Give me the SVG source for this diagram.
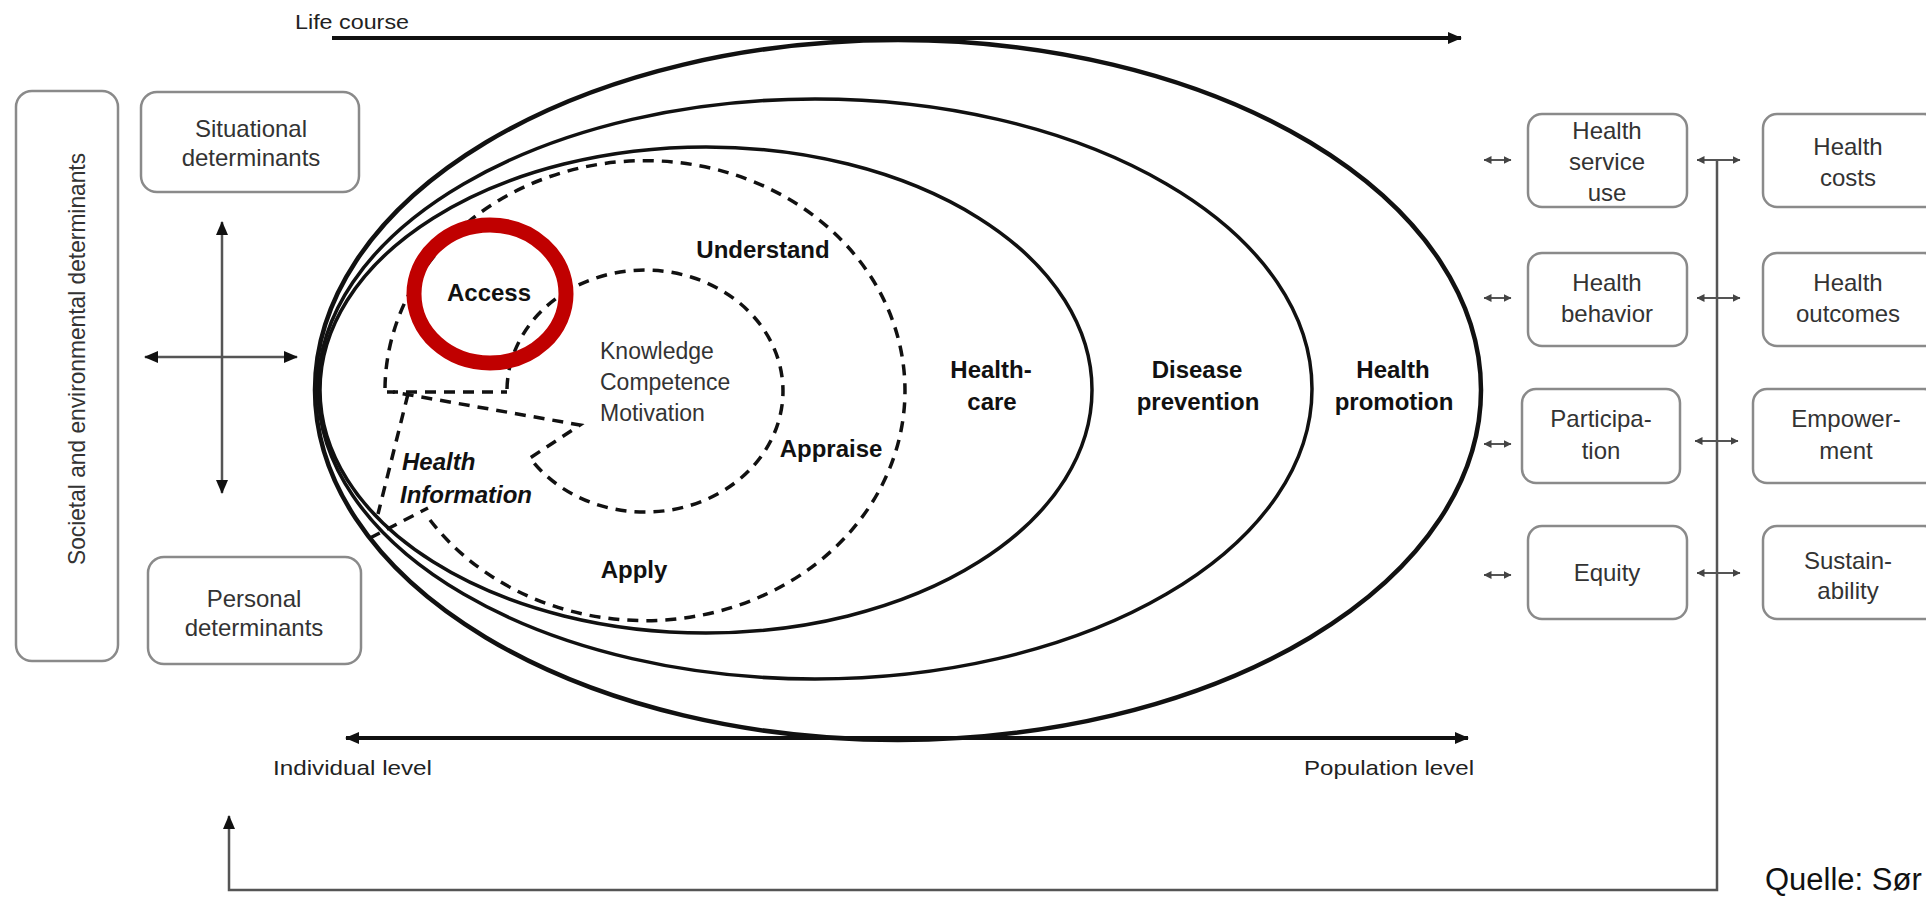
<svg xmlns="http://www.w3.org/2000/svg" width="1926" height="897" viewBox="0 0 1926 897">
  <defs>
    <marker id="head" viewBox="0 0 14 12" refX="13" refY="6" markerWidth="14" markerHeight="12" markerUnits="userSpaceOnUse" orient="auto-start-reverse">
      <path d="M0,0 L14,6 L0,12 z" fill="#111"/>
    </marker>
    <marker id="headSmall" viewBox="0 0 8 8" refX="7.5" refY="4" markerWidth="8" markerHeight="8" markerUnits="userSpaceOnUse" orient="auto-start-reverse">
      <path d="M0,0 L8,4 L0,8 z" fill="#444"/>
    </marker>
  </defs>
  <style>
    .box { fill: #fff; stroke: #8a8a8a; stroke-width: 2.5; }
    .btxt { font-family: "Liberation Sans", Arial, sans-serif; font-size: 24px; fill: #333; text-anchor: middle; }
    .zone { fill: none; stroke: #111; }
    .dash { fill: none; stroke: #111; stroke-width: 3.5; stroke-dasharray: 11 8; }
    .lbl { font-family: "Liberation Sans", Arial, sans-serif; font-weight: bold; font-size: 24px; fill: #111; text-anchor: middle; }
    .info { font-family: "Liberation Sans", Arial, sans-serif; font-weight: bold; font-style: italic; font-size: 24px; fill: #111; text-anchor: start; }
    .core { font-family: "Liberation Sans", Arial, sans-serif; font-size: 23px; fill: #333; }
    .axis { fill: none; stroke: #111; stroke-width: 4; }
    .axtxt { font-family: "Liberation Sans", Arial, sans-serif; font-size: 21px; fill: #222; }
    .thin { fill: none; stroke: #555; stroke-width: 2.5; }
    .link { fill: none; stroke: #555; stroke-width: 2; }
  </style>

  <rect width="1926" height="897" fill="#fff"/>

  <!-- nested fields of action -->
  <g id="health-promotion">
    <ellipse class="zone" cx="898" cy="390" rx="583" ry="350" stroke-width="4.5"/>
    <text class="lbl" x="1393" y="378">Health</text>
    <text class="lbl" x="1394" y="410">promotion</text>
  </g>
  <g id="disease-prevention">
    <ellipse class="zone" cx="815" cy="389" rx="497" ry="290" stroke-width="3.5"/>
    <text class="lbl" x="1197" y="378">Disease</text>
    <text class="lbl" x="1198" y="410">prevention</text>
  </g>
  <g id="healthcare">
    <ellipse class="zone" cx="706" cy="390" rx="386" ry="243" stroke-width="3.5"/>
    <text class="lbl" x="991" y="378">Health-</text>
    <text class="lbl" x="992" y="410">care</text>
  </g>

  <!-- health literacy process -->
  <g id="process">
    <path class="dash" d="M385,388 A260,230 0 1 1 430,520"/>
    <path class="dash" d="M408,394 L378,514"/>
    <path class="dash" d="M370,538 L428,508"/>
    <path class="dash" d="M387,392 L507,392"/>
    <text class="lbl" x="763" y="258">Understand</text>
    <text class="lbl" x="831" y="457">Appraise</text>
    <text class="lbl" x="634" y="578">Apply</text>
  </g>
  <g id="core">
    <path class="dash" d="M507,389 A138,121 0 1 1 530,458 L580,425 L393,392"/>
    <text class="core" x="600" y="359">Knowledge</text>
    <text class="core" x="600" y="390">Competence</text>
    <text class="core" x="600" y="421">Motivation</text>
  </g>
  <g id="health-information">
    <text class="info" x="402" y="470">Health</text>
    <text class="info" x="400" y="503">Information</text>
  </g>
  <g id="access">
    <text class="lbl" x="489" y="301" font-size="22">Access</text>
    <ellipse cx="490" cy="294" rx="76" ry="69" fill="none" stroke="#c00000" stroke-width="15"/>
  </g>

  <!-- determinants -->
  <g id="societal-determinants">
    <rect class="box" x="16" y="91" width="102" height="570" rx="16"/>
    <text class="btxt" transform="translate(85,359) rotate(-90)" x="0" y="0" textLength="412" lengthAdjust="spacingAndGlyphs">Societal and environmental determinants</text>
  </g>
  <g id="situational-determinants">
    <rect class="box" x="141" y="92" width="218" height="100" rx="16"/>
    <text class="btxt" x="251" y="137">Situational</text>
    <text class="btxt" x="251" y="166">determinants</text>
  </g>
  <g id="personal-determinants">
    <rect class="box" x="148" y="557" width="213" height="107" rx="16"/>
    <text class="btxt" x="254" y="607">Personal</text>
    <text class="btxt" x="254" y="636">determinants</text>
  </g>

  <!-- health outcomes, first column -->
  <g id="health-service-use">
    <rect class="box" x="1528" y="114" width="159" height="93" rx="14"/>
    <text class="btxt" x="1607" y="139">Health</text>
    <text class="btxt" x="1607" y="170">service</text>
    <text class="btxt" x="1607" y="201">use</text>
  </g>
  <g id="health-behavior">
    <rect class="box" x="1528" y="253" width="159" height="93" rx="14"/>
    <text class="btxt" x="1607" y="291">Health</text>
    <text class="btxt" x="1607" y="322">behavior</text>
  </g>
  <g id="participation">
    <rect class="box" x="1522" y="389" width="158" height="94" rx="14"/>
    <text class="btxt" x="1601" y="427">Participa-</text>
    <text class="btxt" x="1601" y="459">tion</text>
  </g>
  <g id="equity">
    <rect class="box" x="1528" y="526" width="159" height="93" rx="14"/>
    <text class="btxt" x="1607" y="581">Equity</text>
  </g>

  <!-- health outcomes, second column -->
  <g id="health-costs">
    <rect class="box" x="1763" y="114" width="175" height="93" rx="14"/>
    <text class="btxt" x="1848" y="155">Health</text>
    <text class="btxt" x="1848" y="186">costs</text>
  </g>
  <g id="health-outcomes">
    <rect class="box" x="1763" y="253" width="175" height="93" rx="14"/>
    <text class="btxt" x="1848" y="291">Health</text>
    <text class="btxt" x="1848" y="322">outcomes</text>
  </g>
  <g id="empowerment">
    <rect class="box" x="1753" y="389" width="185" height="94" rx="14"/>
    <text class="btxt" x="1846" y="427">Empower-</text>
    <text class="btxt" x="1846" y="459">ment</text>
  </g>
  <g id="sustainability">
    <rect class="box" x="1763" y="526" width="175" height="93" rx="14"/>
    <text class="btxt" x="1848" y="569">Sustain-</text>
    <text class="btxt" x="1848" y="599">ability</text>
  </g>

  <!-- connectors -->
  <g id="connectors">
    <path class="axis" d="M332,38 L1461,38" marker-end="url(#head)"/>
    <path class="axis" d="M346,738 L1468,738" marker-start="url(#head)" marker-end="url(#head)"/>
    <path class="thin" d="M222,222 L222,493" marker-start="url(#head)" marker-end="url(#head)"/>
    <path class="thin" d="M145,357 L297,357" marker-start="url(#head)" marker-end="url(#head)"/>

    <path class="link" d="M1484,160 L1511,160" marker-start="url(#headSmall)" marker-end="url(#headSmall)"/>
    <path class="link" d="M1484,298 L1511,298" marker-start="url(#headSmall)" marker-end="url(#headSmall)"/>
    <path class="link" d="M1484,444 L1511,444" marker-start="url(#headSmall)" marker-end="url(#headSmall)"/>
    <path class="link" d="M1484,575 L1511,575" marker-start="url(#headSmall)" marker-end="url(#headSmall)"/>

    <path class="link" d="M1697,160 L1740,160" marker-start="url(#headSmall)" marker-end="url(#headSmall)"/>
    <path class="link" d="M1697,298 L1740,298" marker-start="url(#headSmall)" marker-end="url(#headSmall)"/>
    <path class="link" d="M1695,441 L1738,441" marker-start="url(#headSmall)" marker-end="url(#headSmall)"/>
    <path class="link" d="M1697,573 L1740,573" marker-start="url(#headSmall)" marker-end="url(#headSmall)"/>

    <path class="thin" d="M1717,160 L1717,890 L229,890 L229,816" stroke-width="3" marker-end="url(#head)"/>
  </g>

  <!-- axis labels -->
  <text class="axtxt" x="295" y="29" textLength="114" lengthAdjust="spacingAndGlyphs">Life course</text>
  <text class="axtxt" x="273" y="775" textLength="159" lengthAdjust="spacingAndGlyphs">Individual level</text>
  <text class="axtxt" x="1304" y="775" textLength="170" lengthAdjust="spacingAndGlyphs">Population level</text>

  <text x="1765" y="890" font-family="'Liberation Sans', Arial, sans-serif" font-size="31" fill="#111">Quelle: Sør</text>
</svg>
